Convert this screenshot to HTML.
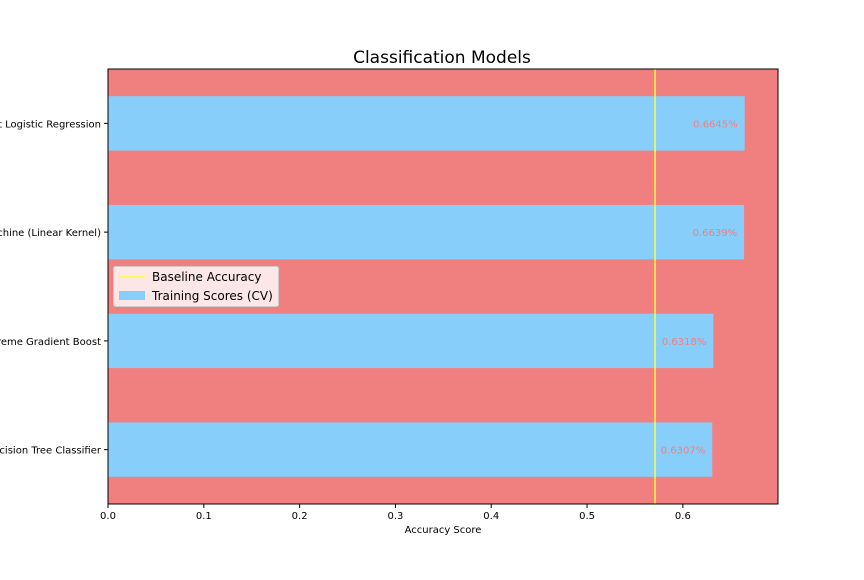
<!DOCTYPE html>
<html><head><meta charset="utf-8"><style>
body{margin:0;background:#fff;font-family:"DejaVu Sans",sans-serif}
</style></head><body>
<svg width="864" height="576" xmlns="http://www.w3.org/2000/svg" font-family="DejaVu Sans, sans-serif">
<text x="442" y="63" font-size="17" text-anchor="middle">Classification Models</text>
<g id="plot"></g>
</svg>
<script>
const categories=["Decision Tree Classifier","Extreme Gradient Boost","Support Vector Machine (Linear Kernel)","Best Logistic Regression"];
const scores=[0.6307,0.6318,0.6639,0.6645];
const baseline=[0.571];
const xTicks=[0,0.1,0.2,0.3,0.4,0.5,0.6];
const L=108,R=778,T=69,B=504,XMAX=0.6993;
const x=v=>L+v/XMAX*(R-L);
const y=i=>B-(i+0.5)/categories.length*(B-T);
const ns="http://www.w3.org/2000/svg";
const g=document.getElementById('plot');
function mk(t,a,txt){const e=document.createElementNS(ns,t);for(const k in a)e.setAttribute(k,a[k]);if(txt!=null)e.textContent=txt;g.appendChild(e);return e;}
let e=mk('rect',{x:L,y:T,width:R-L,height:B-T,fill:'#f08080'});

const bh=(B-T)/categories.length*0.5;
categories.forEach((c,i)=>{
 let b=mk('rect',{x:L,y:y(i)-bh/2,width:x(scores[i])-L,height:bh,fill:'#87cefa'});
 
 let v=mk('text',{x:x(scores[i])-7,y:y(i)+4,'font-size':10,fill:'#f08080','text-anchor':'end'},scores[i].toFixed(4)+'%');
 
 let tk=mk('line',{x1:L-4,x2:L,y1:y(i),y2:y(i),stroke:'#000'});
 
 let l=mk('text',{x:L-7,y:y(i)+4,'font-size':10,'text-anchor':'end'},c);
 
});
let bl=mk('line',{x1:x(baseline[0]),x2:x(baseline[0]),y1:T,y2:B,stroke:'#ffff33','stroke-width':1.5});

xTicks.forEach(t=>{
 let tk=mk('line',{x1:x(t),x2:x(t),y1:B,y2:B+4,stroke:'#000'});
 
 let l=mk('text',{x:x(t),y:B+15,'font-size':10,'text-anchor':'middle'},t.toFixed(1));
 
});
let fr=mk('rect',{x:L,y:T,width:R-L,height:B-T,fill:'none',stroke:'#000','stroke-width':1});

let xl=mk('text',{x:(L+R)/2,y:B+29,'font-size':10,'text-anchor':'middle'},'Accuracy Score');

let lg=mk('rect',{x:113.5,y:266.5,width:165,height:40,fill:'#fff','fill-opacity':0.8,stroke:'#ccc',rx:2});

let l1=mk('line',{x1:119,x2:145,y1:277,y2:277,stroke:'#ffff33','stroke-width':1.5});

let t1=mk('text',{x:152,y:281,'font-size':12},'Baseline Accuracy');

let l2=mk('rect',{x:119,y:291,width:26,height:9,fill:'#87cefa'});

let t2=mk('text',{x:152,y:300,'font-size':12},'Training Scores (CV)');

</script>
</body></html>
